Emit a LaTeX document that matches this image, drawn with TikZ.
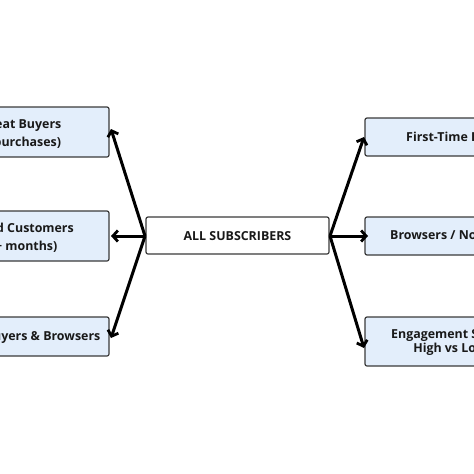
\documentclass[tikz,border=0pt]{standalone}
\usepackage{fontspec}
\setmainfont{Open Sans}
\usetikzlibrary{arrows.meta}
\definecolor{boxfill}{HTML}{E3EEFB}
\definecolor{boxline}{HTML}{3A3A3A}
\begin{document}
\begin{tikzpicture}[x=1pt,y=-1pt,
  seg/.style={draw=boxline,line width=1.2pt,fill=boxfill,rounded corners=2pt},
  hub/.style={draw=boxline,line width=1.2pt,fill=white,rounded corners=2pt},
  lbl/.style={font=\bfseries\fontsize{12.4}{17.5}\selectfont,align=center,text=black!90,inner sep=0pt},
  tight/.style={font=\bfseries\fontsize{12.4}{14}\selectfont},
  arr/.style={line width=3pt,-{Straight Barb[length=5pt,width=11pt,line width=2.8pt]}}]
\useasboundingbox (0,0) rectangle (474,474);
\begin{scope}
\clip (0,0) rectangle (474,474);
% left boxes
\path[seg] (-70,107) rectangle (109,157);
\path[seg] (-70,211) rectangle (109,261);
\path[seg] (-70,317) rectangle (109,356);
% right boxes
\path[seg] (365,118) rectangle (545,156);
\path[seg] (365,217) rectangle (545,255);
\path[seg] (365,317) rectangle (545,366);
% hub
\path[hub] (146,217) rectangle (329,254);
\node[lbl] (hub) at (237.5,236) {ALL SUBSCRIBERS};
\node[lbl,anchor=east] (l1) at (61.5,134.5) {Repeat Buyers\\(2+ purchases)};
\node[lbl,anchor=east] (l2) at (74,238) {Lapsed Customers\\(12+ months)};
\node[lbl,anchor=east] (l3) at (100.5,337) {Non-Buyers \& Browsers};
\node[lbl,anchor=west] (r1) at (406,138) {First-Time Buyers};
\node[lbl,anchor=west] (r2) at (390,237) {Browsers / Non-Buyers};
\node[lbl,tight,anchor=west] (r3) at (391,342) {Engagement Score:\\High vs Low};
\coordinate (hl) at (145,236);
\coordinate (hr) at (330,236);
\coordinate (tl1) at (111,129);
\coordinate (tl2) at (111,236);
\coordinate (tl3) at (111,338);
\coordinate (tr1) at (364,137);
\coordinate (tr2) at (368,236);
\coordinate (tr3) at (364,348);
\draw[arr] (hl) -- (tl1);
\draw[arr] (hl) -- (tl2);
\draw[arr] (hl) -- (tl3);
\draw[arr] (hr) -- (tr1);
\draw[arr] (hr) -- (tr2);
\draw[arr] (hr) -- (tr3);
\end{scope}
\end{tikzpicture}
\end{document}
